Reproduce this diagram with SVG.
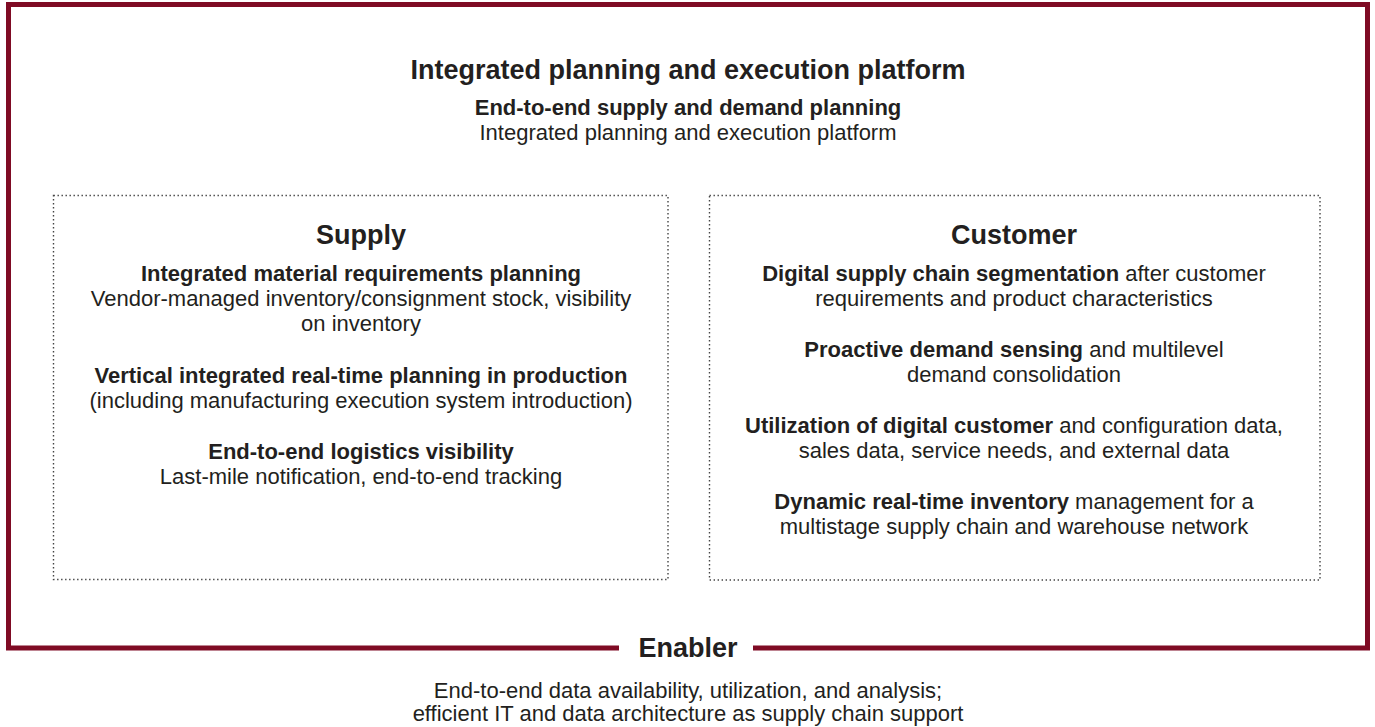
<svg xmlns="http://www.w3.org/2000/svg" width="1375" height="727" viewBox="0 0 1375 727">
<style>
text{font-family:"Liberation Sans",Arial,Helvetica,sans-serif;fill:#231f20;text-anchor:middle;font-size:22px}
.h{font-size:27px;font-weight:bold}
.b{font-weight:bold}
.frame{fill:none;stroke:#7f0b24;stroke-width:5}
.dot{fill:none;stroke:#444;stroke-width:1.4;stroke-dasharray:1.4 2.6}
</style>
<rect width="1375" height="727" fill="#ffffff"/>
<g id="platform">
<path class="frame" d="M619 648 H8.5 V4.5 H1367.5 V648 H753"/>
<text class="h" x="688" y="79">Integrated planning and execution platform</text>
<text class="b" x="688" y="115">End-to-end supply and demand planning</text>
<text x="688" y="140">Integrated planning and execution platform</text>
</g>
<g id="supply">
<rect class="dot" x="53.5" y="195.5" width="614.5" height="384"/>
<text class="h" x="361" y="244">Supply</text>
<text class="b" x="361" y="281">Integrated material requirements planning</text>
<text x="361" y="306">Vendor-managed inventory/consignment stock, visibility</text>
<text x="361" y="331">on inventory</text>
<text class="b" x="361" y="383">Vertical integrated real-time planning in production</text>
<text x="361" y="408">(including manufacturing execution system introduction)</text>
<text class="b" x="361" y="459">End-to-end logistics visibility</text>
<text x="361" y="484">Last-mile notification, end-to-end tracking</text>
</g>
<g id="customer">
<rect class="dot" x="709.5" y="195.5" width="610.5" height="384.5"/>
<text class="h" x="1014" y="244">Customer</text>
<text x="1014" y="281"><tspan class="b">Digital supply chain segmentation</tspan> after customer</text>
<text x="1014" y="306">requirements and product characteristics</text>
<text x="1014" y="357"><tspan class="b">Proactive demand sensing</tspan> and multilevel</text>
<text x="1014" y="382">demand consolidation</text>
<text x="1014" y="433"><tspan class="b">Utilization of digital customer</tspan> and configuration data,</text>
<text x="1014" y="458">sales data, service needs, and external data</text>
<text x="1014" y="509"><tspan class="b">Dynamic real-time inventory</tspan> management for a</text>
<text x="1014" y="534">multistage supply chain and warehouse network</text>
</g>
<g id="enabler">
<text class="h" x="688" y="657">Enabler</text>
<text x="688" y="698">End-to-end data availability, utilization, and analysis;</text>
<text x="688" y="721">efficient IT and data architecture as supply chain support</text>
</g>
<g id="connectors"></g>
</svg>
